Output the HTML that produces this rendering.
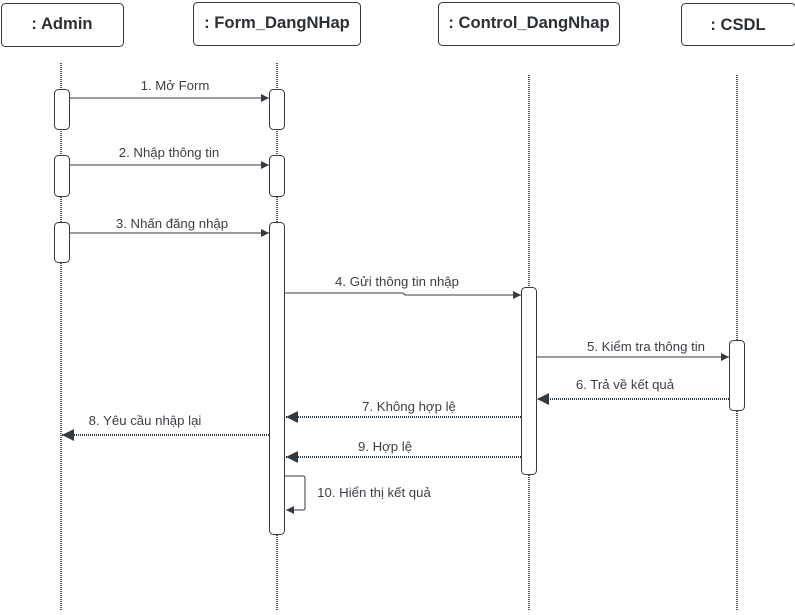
<!DOCTYPE html>
<html><head><meta charset="utf-8"><style>
html,body{margin:0;padding:0;background:#fff;}
svg{display:block;font-family:"Liberation Sans",Arial,sans-serif;}
</style></head><body>
<svg width="795" height="615" viewBox="0 0 795 615" xmlns="http://www.w3.org/2000/svg">
<defs>
<marker id="a" markerWidth="10" markerHeight="10" refX="9" refY="5" orient="auto" markerUnits="userSpaceOnUse"><path d="M1,1 L9,5 L1,9 Z" fill="#333a40"/></marker>
<marker id="b" markerWidth="14" markerHeight="14" refX="13" refY="7" orient="auto" markerUnits="userSpaceOnUse"><path d="M1,1 L13,7 L1,13 Z" fill="#333a40"/></marker>
</defs>
<g fill="#fff" stroke="#333a40" stroke-width="1">
<rect x="1.5" y="3.5" width="122" height="43" rx="4"/>
<rect x="193.5" y="2.5" width="167" height="43" rx="4"/>
<rect x="438.5" y="2.5" width="181" height="43" rx="4"/>
<rect x="681.5" y="3.5" width="114" height="42" rx="4"/>
</g>
<g font-size="16.6" font-weight="bold" fill="#2b3035" text-anchor="middle">
<text x="62" y="29">: Admin</text>
<text x="277" y="28">: Form_DangNHap</text>
<text x="529" y="28">: Control_DangNhap</text>
<text x="738" y="30">: CSDL</text>
</g>
<g stroke="#50565c" stroke-width="2" stroke-dasharray="1,1">
<line x1="61" y1="63" x2="61" y2="610"/>
<line x1="277" y1="63" x2="277" y2="610"/>
<line x1="529" y1="75" x2="529" y2="610"/>
<line x1="737" y1="75" x2="737" y2="610"/>
</g>
<g fill="#fff" stroke="#333a40" stroke-width="1">
<rect x="54.5" y="89.5" width="15" height="40" rx="4"/>
<rect x="54.5" y="155.5" width="15" height="41" rx="4"/>
<rect x="54.5" y="222.5" width="15" height="40" rx="4"/>
<rect x="269.5" y="89.5" width="15" height="40" rx="4"/>
<rect x="269.5" y="155.5" width="15" height="41" rx="4"/>
<rect x="269.5" y="222.5" width="15" height="312" rx="4"/>
<rect x="521.5" y="287.5" width="15" height="187" rx="4"/>
<rect x="729.5" y="340.5" width="15" height="70" rx="4"/>
</g>
<g stroke="#333a40" stroke-width="1" fill="none">
<line x1="70" y1="98" x2="269" y2="98" marker-end="url(#a)"/>
<line x1="70" y1="165" x2="269" y2="165" marker-end="url(#a)"/>
<line x1="70" y1="233" x2="269" y2="233" marker-end="url(#a)"/>
<path d="M285,293 H403 L405,295 H521" marker-end="url(#a)"/>
<line x1="537" y1="357" x2="729" y2="357" marker-end="url(#a)"/>
<path d="M285,476 H303 Q305,476 305,478 V508 Q305,510 303,510 H286" marker-end="url(#a)"/>
</g>
<g stroke="#333a40" stroke-width="2" stroke-dasharray="1,1" fill="none">
<line x1="729" y1="399" x2="537" y2="399" marker-end="url(#b)"/>
<line x1="521" y1="417" x2="286" y2="417" marker-end="url(#b)"/>
<line x1="269" y1="435" x2="62" y2="435" marker-end="url(#b)"/>
<line x1="521" y1="457" x2="286" y2="457" marker-end="url(#b)"/>
</g>
<g font-size="13.2" fill="#3a3f44" text-anchor="middle">
<text x="175" y="90">1. Mở Form</text>
<text x="169" y="157">2. Nhập thông tin</text>
<text x="172" y="228">3. Nhấn đăng nhập</text>
<text x="397" y="286">4. Gửi thông tin nhập</text>
<text x="646" y="351">5. Kiểm tra thông tin</text>
<text x="625" y="389">6. Trả về kết quả</text>
<text x="409" y="411">7. Không hợp lệ</text>
<text x="145" y="425">8. Yêu cầu nhập lại</text>
<text x="385" y="451">9. Hợp lệ</text>
<text x="374" y="497">10. Hiển thị kết quả</text>
</g>
</svg>
</body></html>
